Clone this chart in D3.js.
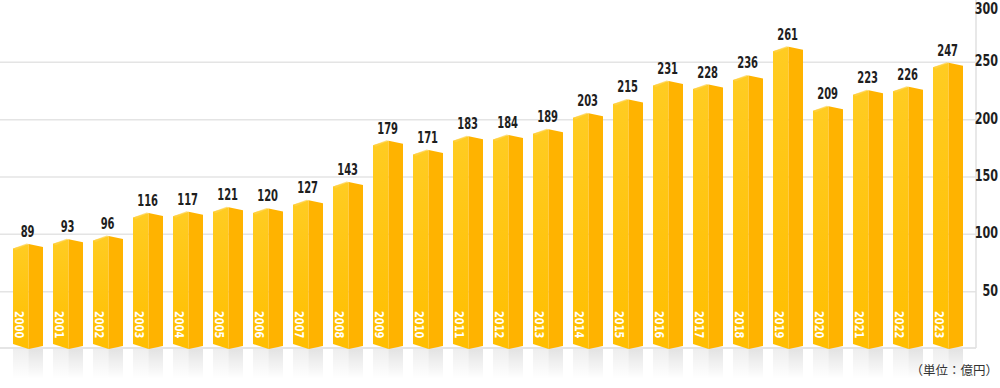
<!DOCTYPE html>
<html lang="ja">
  <head>
    <meta charset="UTF-8" />
    <title>売上推移</title>
    <script src="https://d3js.org/d3.v7.min.js"></script>
    <style>
      body { margin: 0; background: #fff; }
    </style>
  </head>
  <body>
    <svg width="1000" height="388"></svg>
    <script>
      let years = ["2000","2001","2002","2003","2004","2005","2006","2007","2008","2009","2010","2011",
        "2012","2013","2014","2015","2016","2017","2018","2019","2020","2021","2022","2023"];
      let values = [89, 93, 96, 116, 117, 121, 120, 127, 143, 179, 171, 183,
        184, 189, 203, 215, 231, 228, 236, 261, 209, 223, 226, 247];
      let ticks = [50, 100, 150, 200, 250, 300];
      let unitLabel = "（単位：億円）";

      let svg = d3.select("svg");
      let numFont = "'DejaVu Sans Condensed', 'Liberation Sans', sans-serif";

      let xScale = d3.scaleBand().domain(years).range([8, 968]).paddingInner(0.25).paddingOuter(0.125);
      let yScale = d3.scaleLinear().domain([0, 300]).range([349, 5]);
      let base = yScale(0);

      let defs = svg.append("defs");
      let gFront = defs.append("linearGradient").attr("id", "front").attr("x1", 0).attr("y1", 0).attr("x2", 0).attr("y2", 1);
      gFront.append("stop").attr("offset", "0%").attr("stop-color", "#ffcc22");
      gFront.append("stop").attr("offset", "100%").attr("stop-color", "#ffbe00");
      let gShadow = defs.append("linearGradient").attr("id", "shadow").attr("x1", 0).attr("y1", 0).attr("x2", 0).attr("y2", 1);
      gShadow.append("stop").attr("offset", "0%").attr("stop-color", "#000").attr("stop-opacity", 0.11);
      gShadow.append("stop").attr("offset", "100%").attr("stop-color", "#000").attr("stop-opacity", 0);

      // gridlines
      svg.append("g")
        .selectAll("line")
        .data(ticks.filter((d) => d < 300))
        .enter()
        .append("line")
        .attr("x1", 0)
        .attr("x2", 976)
        .attr("y1", (d) => yScale(d))
        .attr("y2", (d) => yScale(d))
        .attr("stroke", "#e4e4e4")
        .attr("stroke-width", 1.5);

      svg.append("line")
        .attr("x1", 0).attr("x2", 976)
        .attr("y1", base - 1).attr("y2", base - 1)
        .attr("stroke", "#dcdcdc").attr("stroke-width", 1.5);
      svg.append("line")
        .attr("x1", 976).attr("x2", 976)
        .attr("y1", 0).attr("y2", base - 1)
        .attr("stroke", "#e0e0e0").attr("stroke-width", 1.5);

      let bars = svg.append("g")
        .selectAll("g")
        .data(years.map((y, i) => ({ year: y, value: values[i] })))
        .enter()
        .append("g");

      let bw = xScale.bandwidth();
      let x0 = (d) => xScale(d.year);
      let xc = (d) => xScale(d.year) + bw * 0.52;
      let x1 = (d) => xScale(d.year) + bw;
      let peak = (d) => yScale(d.value) - 3;

      // reflection
      bars.append("rect")
        .attr("x", x0).attr("y", base)
        .attr("width", (d) => xc(d) - x0(d)).attr("height", 30)
        .attr("fill", "url(#shadow)").attr("opacity", 0.6);
      bars.append("rect")
        .attr("x", xc).attr("y", base)
        .attr("width", (d) => x1(d) - xc(d)).attr("height", 30)
        .attr("fill", "url(#shadow)");

      // front face
      bars.append("polygon")
        .attr("points", (d) => [
          [x0(d), peak(d) + 4.5], [xc(d), peak(d)], [xc(d), base], [x0(d), base - 5]
        ].join(" "))
        .attr("fill", "url(#front)");

      // side face
      bars.append("polygon")
        .attr("points", (d) => [
          [xc(d), peak(d)], [x1(d), peak(d) + 3], [x1(d), base - 3], [xc(d), base]
        ].join(" "))
        .attr("fill", "#ffb300");

      // top cap highlight
      bars.append("polygon")
        .attr("points", (d) => [
          [x0(d), peak(d) + 4.5], [xc(d) - 2, peak(d) - 0.5], [xc(d), peak(d)], [x0(d) + 3, peak(d) + 6]
        ].join(" "))
        .attr("fill", "#ffd24a")
        .attr("opacity", 0.7);

      // value labels
      bars.append("text")
        .attr("transform", (d) => "translate(" + (xc(d) - 1) + "," + (peak(d) - 7) + ") scale(0.74,1)")
        .attr("text-anchor", "middle")
        .attr("font-family", numFont)
        .attr("font-weight", "bold")
        .attr("font-size", 15)
        .attr("fill", "#1e1e1e")
        .text((d) => d.value);

      // year labels
      bars.append("text")
        .attr("transform", (d) => "translate(" + (x0(d) + 1.5) + "," + (base - 38) + ") rotate(90) scale(0.95,1)")
        .attr("font-family", numFont)
        .attr("font-weight", "bold")
        .attr("font-size", 11.5)
        .attr("fill", "#fff")
        .text((d) => d.year);

      // y axis
      let yAxis = svg.append("g")
        .attr("transform", "translate(998,0)")
        .call(d3.axisLeft(yScale).tickValues(ticks).tickSize(0).tickPadding(0));
      yAxis.select(".domain").remove();
      yAxis.selectAll(".tick")
        .attr("transform", (d) => "translate(0," + Math.max(yScale(d) - 1.5, 8) + ")");
      yAxis.selectAll("text")
        .attr("font-family", numFont)
        .attr("font-weight", "bold")
        .attr("font-size", 15.5)
        .attr("fill", "#1e1e1e")
        .attr("dy", "0.36em")
        .attr("transform", "scale(0.8,1)")
        .attr("x", 0);

      svg.append("text")
        .attr("x", 998)
        .attr("y", 375)
        .attr("text-anchor", "end")
        .attr("font-family", "'Noto Sans CJK JP', sans-serif")
        .attr("font-size", 12.5)
        .attr("fill", "#333")
        .text(unitLabel);
    </script>
  </body>
</html>
